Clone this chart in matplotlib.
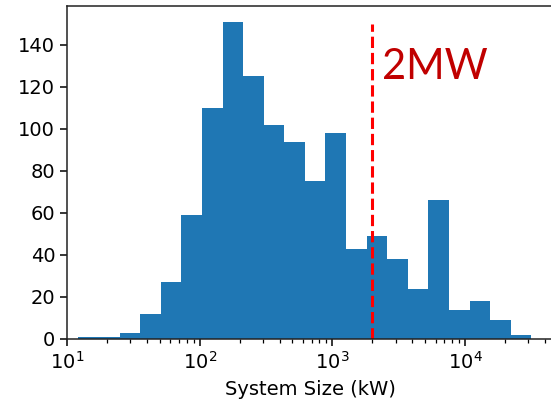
import numpy as np
import matplotlib.pyplot as plt

# histogram of system sizes (kW), log-spaced bins
size_min = 12.2
size_max = 31600
counts = [1, 1, 3, 12, 27, 59, 110, 151, 125, 102, 94, 75,
          98, 43, 49, 38, 24, 66, 14, 18, 9, 2]

threshold_kw = 2000
threshold_label = "2MW"

edges = np.logspace(np.log10(size_min), np.log10(size_max), len(counts) + 1)
centers = np.sqrt(edges[:-1] * edges[1:])

fig = plt.figure(figsize=(5.51, 4.0), dpi=100)
# right spine sits just outside the picture, as in the cropped original
ax = fig.add_axes([67 / 551, 61 / 400, 487 / 551, 333 / 400])

ax.set_xscale('log')
ax.hist(centers, bins=edges, weights=counts, color='#1f77b4')
ax.plot([threshold_kw, threshold_kw], [0, 150], 'r--', lw=2.2)

ax.set_xlim(10, 10 ** 4.671)
ax.set_ylim(0, max(counts) * 1.05)
ax.set_yticks(range(0, 141, 20))

ax.set_xlabel('System Size (kW)', fontsize=14, labelpad=5)
ax.tick_params(labelsize=14, width=1.1, length=5)
ax.tick_params(which='minor', width=0.9, length=3)
for s in ax.spines.values():
    s.set_linewidth(1.1)
    s.set_color('#222222')

fig.text(382 / 551, 1 - 79 / 400, threshold_label, color='#C00000',
         fontsize=30, family='Lato', va='baseline')

fig.savefig('out.png', dpi=100)
